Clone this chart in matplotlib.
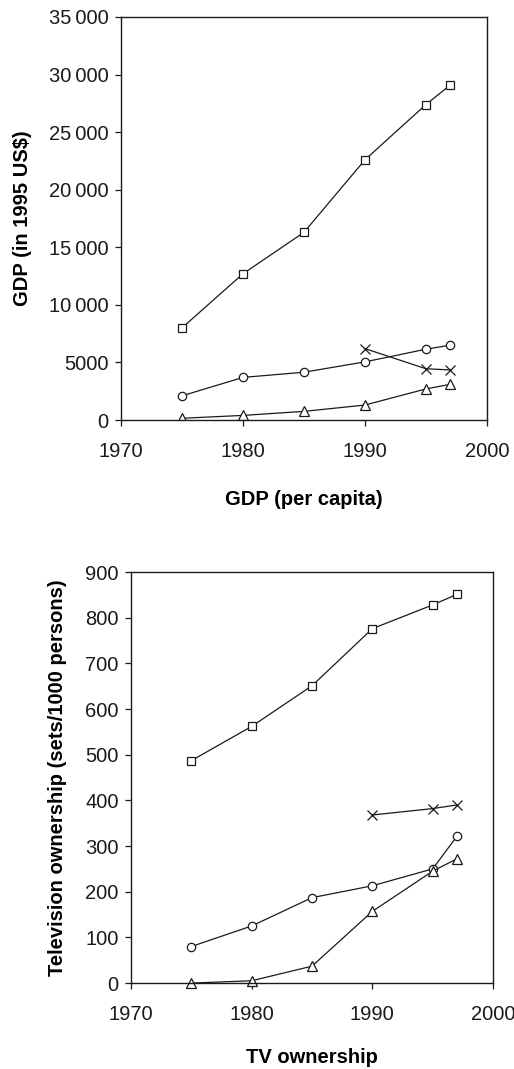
import matplotlib
matplotlib.use('Agg')
import matplotlib.pyplot as plt

plt.rcParams['font.family'] = ['Liberation Sans', 'DejaVu Sans']

# GDP per capita (1995 US$)
years = [1975, 1980, 1985, 1990, 1995, 1997]
gdp_square = [8000, 12700, 16300, 22600, 27400, 29100]
gdp_circle = [2100, 3700, 4150, 5050, 6150, 6500]
gdp_triangle = [150, 400, 750, 1300, 2700, 3100]
years_x = [1990, 1995, 1997]
gdp_x = [6200, 4450, 4350]

# TV ownership (sets/1000 persons)
tv_square = [487, 562, 651, 776, 828, 851]
tv_circle = [80, 125, 187, 213, 250, 321]
tv_triangle = [0, 5, 37, 157, 245, 272]
tv_x = [368, 382, 390]

gdp_ticks = [0, 5000, 10000, 15000, 20000, 25000, 30000, 35000]
gdp_tick_labels = ['0', '5000', '10\u2009000', '15\u2009000', '20\u2009000',
                   '25\u2009000', '30\u2009000', '35\u2009000']
tv_ticks = [0, 100, 200, 300, 400, 500, 600, 700, 800, 900]
year_ticks = [1970, 1980, 1990, 2000]

fig = plt.figure(figsize=(5.14, 10.69), dpi=100)
ax1 = fig.add_axes([0.2354, 0.6071, 0.712, 0.377])
ax2 = fig.add_axes([0.2549, 0.0804, 0.7043, 0.3845])

mk = dict(color='#1a1a1a', lw=0.9, mfc='white', mec='#1a1a1a', mew=0.9)


def style(ax):
    ax.set_xlim(1970, 2000)
    ax.set_xticks(year_ticks)
    ax.tick_params(axis='x', direction='out', length=4, width=0.9, pad=12,
                   labelsize=14.5, colors='#1a1a1a')
    ax.tick_params(axis='y', direction='out', length=4, width=0.9, pad=5,
                   labelsize=14.5, colors='#1a1a1a')
    for s in ax.spines.values():
        s.set_linewidth(1.0)
        s.set_color('#1a1a1a')


ax1.plot(years, gdp_square, marker='s', ms=6, **mk)
ax1.plot(years, gdp_circle, marker='o', ms=6, **mk)
ax1.plot(years, gdp_triangle, marker='^', ms=6.5, **mk)
ax1.plot(years_x, gdp_x, marker='x', ms=7, **mk)
style(ax1)
ax1.set_ylim(0, 35000)
ax1.set_yticks(gdp_ticks)
ax1.set_yticklabels(gdp_tick_labels)
ax1.set_xlabel('GDP (per capita)', fontsize=14.5, fontweight='bold')
ax1.xaxis.set_label_coords(0.5, -0.174)
ax1.set_ylabel('GDP (in 1995 US$)', fontsize=14.5, fontweight='bold')
ax1.yaxis.set_label_coords(-0.243, 0.5)

ax2.plot(years, tv_square, marker='s', ms=6, **mk)
ax2.plot(years, tv_circle, marker='o', ms=6, **mk)
ax2.plot(years, tv_triangle, marker='^', ms=6.5, clip_on=False, **mk)
ax2.plot(years_x, tv_x, marker='x', ms=7, **mk)
style(ax2)
ax2.set_ylim(0, 900)
ax2.set_yticks(tv_ticks)
ax2.set_xlabel('TV ownership', fontsize=14.5, fontweight='bold')
ax2.xaxis.set_label_coords(0.5, -0.158)
ax2.set_ylabel('Television ownership (sets/1000 persons)', fontsize=14.5, fontweight='bold')
ax2.yaxis.set_label_coords(-0.177, 0.5)

fig.savefig('out.png', dpi=100)
